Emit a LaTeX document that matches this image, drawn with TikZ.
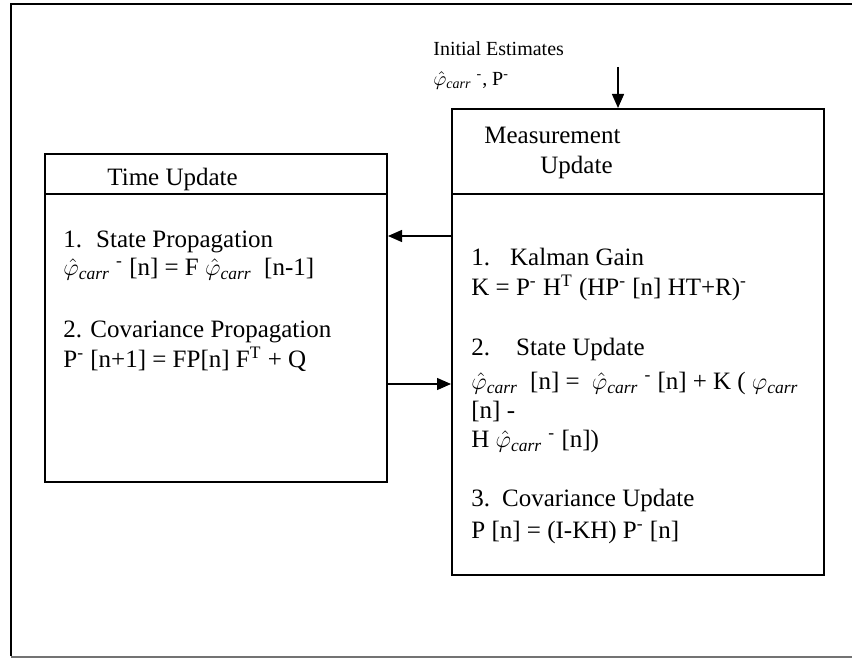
\documentclass[tikz,border=0pt]{standalone}
\usepackage{fontspec}
\setmainfont{Liberation Serif}
\usetikzlibrary{arrows.meta}
\tikzset{
  box/.style={draw, line width=1pt, inner sep=0pt, anchor=north west},
  rule/.style={line width=1pt},
  txt/.style={anchor=north west, inner sep=0pt, align=left, font=\fontsize{12.5}{15}\selectfont},
  smalltxt/.style={anchor=north west, inner sep=0pt, align=left, font=\fontsize{10}{15}\selectfont},
  arr/.style={line width=0.7pt, -{Triangle[length=7pt,width=6pt]}},
}
\newcommand{\phc}{$\hat{\varphi}_{\mathit{carr}}$}
\newcommand{\supm}{\textsuperscript{-}}
\newcommand{\topstrut}{\rule{0pt}{10pt}}
\begin{document}
\begin{tikzpicture}[x=0.5pt,y=-0.5pt]
\useasboundingbox (0,0) rectangle (852,658);
% outer frame
\draw[line width=1pt] (852,4.5) -- (10.5,4.5) -- (10.5,656);
\draw[line width=1pt, black!55] (10.5,656.5) -- (852,656.5);
% boxes
\node[box, minimum width=171pt, minimum height=164pt] (tu) at (44,153) {};
\node[box, minimum width=186pt, minimum height=233pt] (mu) at (451,108) {};
\coordinate (d1) at (0,194);
\draw[rule] (tu.west |- d1) -- (tu.east |- d1);
\draw[rule] (mu.west |- d1) -- (mu.east |- d1);
% initial estimates (first baseline y=55)
\node[smalltxt] (ie) at (433,35) {\topstrut Initial Estimates\\ \phc\ \supm, P\supm};
% headers
\node[txt] (tuh) at (107,165) {\topstrut Time Update};
\node[txt] (muh) at (484,123) {\topstrut Measurement\\ \hspace*{28pt}Update};
% time update body (first baseline y=247)
\node[txt, font=\fontsize{12.5}{14}\selectfont] (tub) at (63,227) {\topstrut 1.\hspace{7pt}State Propagation\\
\phc\ \supm\ [n] = F \phc\ \ [n-1]\\[17pt]
2. Covariance Propagation\\[1pt]
P\supm\ [n+1] = FP[n] F\textsuperscript{T} + Q};
% measurement update body (first baseline y=265)
\node[txt] (mub) at (471,245) {\topstrut 1.\hspace{10pt}Kalman Gain\\
K = P\supm\ H\textsuperscript{T} (HP\supm\ [n] HT+R)\supm\\[15pt]
2.\hspace{13pt}State Update\\[2pt]
\makebox[163.5pt][s]{\phc\ \ [n] =\ \ \phc\ \supm\ [n] + K\ ( $\varphi_{\mathit{carr}}$}\\[-0.5pt]
[n] -\\[-0.5pt]
H \phc\ \supm\ [n])\\[14.5pt]
3.\hspace{6pt}Covariance Update\\[1pt]
P [n] = (I-KH) P\supm\ [n]};
% connectors
\coordinate (y1) at (0,236);
\coordinate (y2) at (0,384);
\coordinate (init) at (618,67);
\draw[arr] (mu.west |- y1) -- (tu.east |- y1);
\draw[arr] (tu.east |- y2) -- (mu.west |- y2);
\draw[arr] (init) -- (init |- mu.north);
\end{tikzpicture}
\end{document}
